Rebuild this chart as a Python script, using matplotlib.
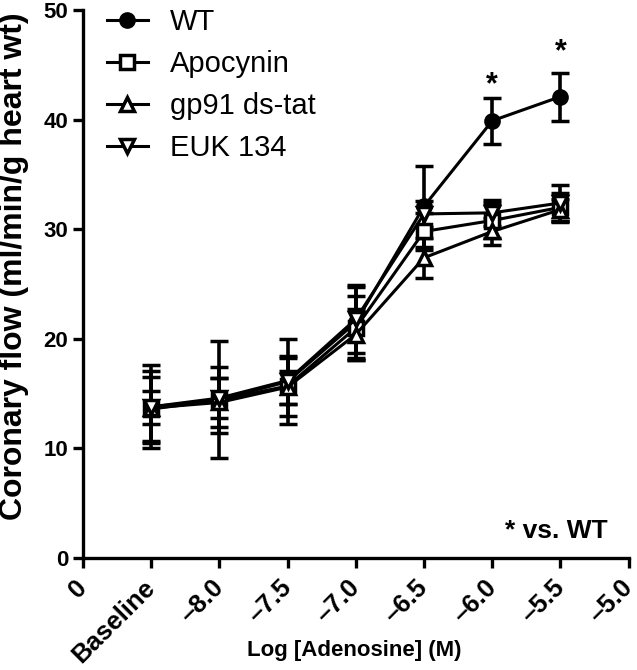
import numpy as np
import matplotlib
matplotlib.use('Agg')
import matplotlib.pyplot as plt
from matplotlib.lines import Line2D

plt.rcParams['font.family'] = ['Liberation Sans', 'DejaVu Sans']

tick_labels = ['0', 'Baseline', '\u20138.0', '\u20137.5', '\u20137.0',
               '\u20136.5', '\u20136.0', '\u20135.5', '\u20135.0']
x_pos = [1, 2, 3, 4, 5, 6, 7]

wt_mean  = [13.8, 14.45, 16.1, 21.5, 32.1, 39.9, 42.1]
wt_err   = [3.8, 5.35, 3.9, 3.2, 3.7, 2.1, 2.2]
apo_mean = [13.6, 14.4, 15.7, 21.0, 29.8, 30.8, 32.0]
apo_err  = [2.9, 3.0, 2.7, 2.9, 1.7, 1.6, 1.3]
gp_mean  = [13.7, 14.2, 15.6, 20.4, 27.4, 29.8, 31.8]
gp_err   = [1.5, 2.2, 1.5, 2.3, 1.8, 1.2, 1.0]
euk_mean = [13.8, 14.6, 16.2, 21.8, 31.4, 31.5, 32.4]
euk_err  = [3.3, 1.8, 2.1, 3.1, 1.2, 1.2, 1.6]
sig_pos  = [6, 7]
sig_y    = [42.4, 45.4]

fig, ax = plt.subplots(figsize=(6.37, 6.7), dpi=100)
fig.subplots_adjust(left=0.130, right=0.987, bottom=0.167, top=0.985)

series = [
    (wt_mean, wt_err, 'o', 'black', 'WT'),
    (apo_mean, apo_err, 's', 'white', 'Apocynin'),
    (gp_mean, gp_err, '^', 'white', 'gp91 ds-tat'),
    (euk_mean, euk_err, 'v', 'white', 'EUK 134'),
]
handles = []
for mean, err, mk, fc, lab in series:
    ax.errorbar(x_pos, mean, yerr=err, color='black', marker=mk,
                markerfacecolor=fc, markeredgecolor='black', markeredgewidth=2.5,
                markersize=9.5, linewidth=2.2, elinewidth=2.6, capsize=6.8,
                capthick=4.2, clip_on=False)
    handles.append(Line2D([], [], color='black', marker=mk, markerfacecolor=fc,
                          markeredgecolor='black', markeredgewidth=2.5,
                          markersize=9.5, linewidth=2.2, label=lab))

for xp, yv in zip(sig_pos, sig_y):
    ax.text(xp, yv, '*', ha='center', va='baseline', fontsize=22, fontweight='bold')

ax.text(7.69, 1.8, '* vs. WT', ha='right', va='baseline', fontsize=19, fontweight='bold')

ax.set_xlim(0, 8)
ax.set_ylim(0, 50)
ax.set_xticks(range(9))
ax.set_xticklabels(tick_labels, rotation=45, ha='right', va='center',
                   rotation_mode='anchor', fontsize=18.5, fontweight='bold')
ax.set_yticks([0, 10, 20, 30, 40, 50])
ax.set_yticklabels(['0', '10', '20', '30', '40', '50'], fontsize=16, fontweight='bold')
ax.tick_params(axis='both', width=2.4, length=7.5, direction='out')
ax.tick_params(axis='x', pad=11)
ax.tick_params(axis='y', pad=3)
for s in ['top', 'right']:
    ax.spines[s].set_visible(False)
for s in ['left', 'bottom']:
    ax.spines[s].set_linewidth(2.4)

ax.set_xlabel('Log [Adenosine] (M)', fontsize=16, fontweight='bold', va='center')
ax.xaxis.set_label_coords(0.498, -0.168)
ax.set_ylabel('Coronary flow (ml/min/g heart wt)', fontsize=23, fontweight='bold',
              family=['Liberation Sans Narrow', 'Liberation Sans'], va='center')
ax.yaxis.set_label_coords(-0.126, 0.533)

ax.legend(handles=handles, loc='upper left', bbox_to_anchor=(0.168, 0.988),
          bbox_transform=fig.transFigure, frameon=False, borderpad=0,
          borderaxespad=0, fontsize=21, handlelength=1.4, labelspacing=0.48,
          handletextpad=0.75)

fig.savefig('out.png', dpi=100)
